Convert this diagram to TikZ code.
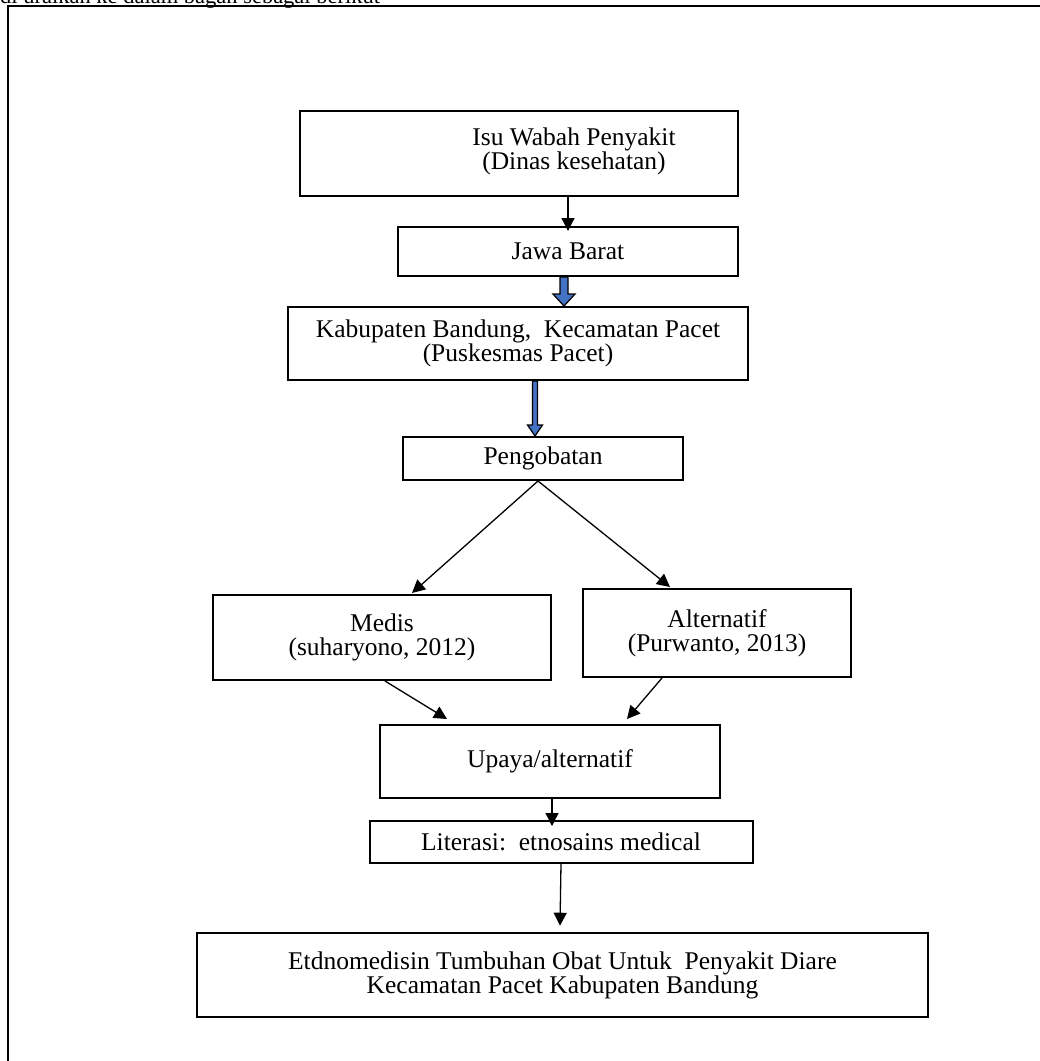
\documentclass[tikz,border=0pt]{standalone}
\usepackage{fontspec}
\setmainfont{Liberation Serif}
\usetikzlibrary{arrows.meta, positioning, calc}
\definecolor{arrowblue}{HTML}{4472C4}
\tikzset{
    box/.style={
        rectangle, draw=black, line width=2pt,
        fill=white, inner sep=0pt
    },
    boxtext/.style={font=\fontsize{25.5}{24}\selectfont, align=center, inner sep=0pt},
    wire/.style={draw=black, line width=1.3pt, -{Triangle[length=13pt,width=13pt]}},
    blockarrow/.style={draw=black, line width=1.2pt, fill=arrowblue, line join=miter},
    frame/.style={draw=black, line width=2.5pt}
}
% block arrow: from, to, x, half shaft, half head, head length
\newcommand{\blockarrow}[6]{%
  \path[blockarrow] let \p1=(#1.south), \p2=(#2.north) in
    ({#3pt-#4pt},\y1) -- ({#3pt+#4pt},\y1) -- ({#3pt+#4pt},\y2+#6pt)
    -- ({#3pt+#5pt},\y2+#6pt) -- (#3pt,\y2) -- ({#3pt-#5pt},\y2+#6pt)
    -- ({#3pt-#4pt},\y2+#6pt) -- cycle;}

\begin{document}
\begin{tikzpicture}[x=1pt, y=-1pt]
\clip (0,0) rectangle (1040,1061);

% Intro line and frame
\node[anchor=base west, font=\fontsize{22.5}{26}\selectfont, inner sep=0pt] (intro) at (0,3) {di uraikan ke dalam bagan sebagai berikut};
\draw[frame] (8,1080) -- (8,6) -- (1060,6);

% Top boxes
\node[box, minimum width=438pt, minimum height=85pt] (isu) at (519,153.5) {};
\node[boxtext] (isutxt) at (574,151) {Isu Wabah Penyakit\\(Dinas kesehatan)};

\node[box, boxtext, minimum width=340pt, minimum height=49pt] (jawa) at (568,251.5) {Jawa Barat};

\node[box, boxtext, minimum width=460pt, minimum height=73pt] (kab) at (518,343.5) {Kabupaten Bandung,\ \ Kecamatan Pacet\\(Puskesmas Pacet)};

\node[box, boxtext, minimum width=280pt, minimum height=43pt] (peng) at (543,458.5) {Pengobatan};

\draw[wire] (isu.south -| jawa.south) -- ([yshift=-5pt]jawa.north);
\blockarrow{jawa}{kab}{564}{4}{11}{12}
\blockarrow{kab}{peng}{535}{2.5}{7.5}{11}

% Two branches
\node[box, boxtext, minimum width=338pt, minimum height=85pt] (medis) at (382,637.5) {Medis\\(suharyono, 2012)};
\node[box, boxtext, minimum width=268pt, minimum height=88pt] (alt) at (717,633) {Alternatif\\(Purwanto, 2013)};

\draw[wire] ([xshift=-5pt]peng.south) -- ([xshift=30pt,yshift=1pt]medis.north);
\draw[wire] ([xshift=-5pt]peng.south) -- ([xshift=-47pt,yshift=1pt]alt.north);

% Lower boxes
\node[box, boxtext, minimum width=340pt, minimum height=73pt] (upaya) at (550,761.5) {Upaya/alternatif};
\node[box, boxtext, minimum width=383pt, minimum height=42pt] (lit) at (561,842) {Literasi:\ \ etnosains medical};
\node[box, boxtext, line width=2.6pt, minimum width=731pt, minimum height=84pt] (final) at (562.5,975) {Etdnomedisin Tumbuhan Obat Untuk\ \ Penyakit Diare\\Kecamatan Pacet Kabupaten Bandung};

\draw[wire] ([xshift=3pt]medis.south) -- ([xshift=-103pt,yshift=5pt]upaya.north);
\draw[wire] ([xshift=-55pt]alt.south) -- ([xshift=77pt,yshift=5pt]upaya.north);
\draw[wire] ([xshift=2pt]upaya.south) -- ([xshift=-9pt,yshift=-6pt]lit.north);
\draw[wire] (lit.south) -- ([xshift=-2.5pt,yshift=6pt]final.north);

\end{tikzpicture}
\end{document}
